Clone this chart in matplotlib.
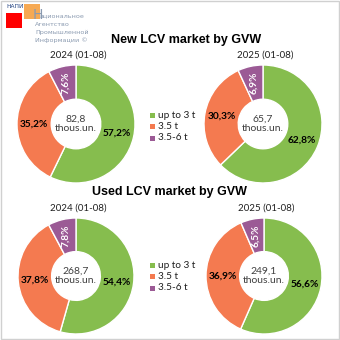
import matplotlib
matplotlib.use('Agg')
import matplotlib.pyplot as plt
from matplotlib.patches import Rectangle

# Данные
categories = ['up to 3 t', '3.5 t', '3.5-6 t']
colors = ['#86BD4E', '#F47A50', '#9B5A95']

periods = ['2024 (01-08)', '2025 (01-08)']
new_shares = [[57.2, 35.2, 7.6], [62.8, 30.3, 6.9]]
new_totals = ['82,8', '65,7']
used_shares = [[54.4, 37.8, 7.8], [56.6, 36.9, 6.5]]
used_totals = ['268,7', '249,1']

W = 340
fig = plt.figure(figsize=(3.4, 3.4), dpi=100)
fig.patch.set_facecolor('white')
fig.add_artist(Rectangle((0.002, 0.002), 0.996, 0.996, transform=fig.transFigure,
                         fill=False, edgecolor='#D0D0D0', lw=1))

def px(x, y):
    return x / W, 1 - y / W

def donut(cx, cy, r, vals, total, period):
    ax = fig.add_axes([(cx - r) / W, 1 - (cy + r) / W, 2 * r / W, 2 * r / W])
    wedges, texts, autotexts = ax.pie(vals, colors=colors, startangle=90, counterclock=False,
                                      radius=1, autopct=lambda p: '', pctdistance=0.71,
                                      wedgeprops=dict(width=0.58, edgecolor='white', linewidth=1))
    for i, a in enumerate(autotexts):
        s = ('%.1f%%' % vals[i]).replace('.', ',')
        a.set_text(s)
        a.set_fontfamily('Lato')
        a.set_fontweight('bold')
        a.set_fontsize(7.3)
        if i == 2:
            a.set_color('white')
            a.set_rotation(90)
        else:
            a.set_color('black')
    ax.text(0, 0, total + '\nthous.un.', ha='center', va='center', fontsize=7.5,
            family='Lato', color='#404040', linespacing=1.0)
    ax.set_xlim(-1, 1)
    ax.set_ylim(-1, 1)
    x, y = px(cx + 2, cy - r - 10)
    fig.text(x, y, period, ha='center', va='center', fontsize=7.0, family='Lato', color='#202020')

for i in range(2):
    donut([76, 263][i], 124, 59, new_shares[i], new_totals[i], periods[i])
    donut([76, 264][i], 276, 58, used_shares[i], used_totals[i], periods[i])

x, y = px(186, 40)
fig.text(x, y, 'New LCV market by GVW', ha='center', va='center', fontsize=9,
         fontweight='bold', family='Liberation Sans', color='black')
x, y = px(169, 192)
fig.text(x, y, 'Used LCV market by GVW', ha='center', va='center', fontsize=9,
         fontweight='bold', family='Liberation Sans', color='black')

# легенды
for ly in [115, 265]:
    for k, name in enumerate(categories):
        yy = ly + k * 11.5
        fig.add_artist(Rectangle((150 / W, 1 - (yy + 2.5) / W), 5 / W, 5 / W,
                                 transform=fig.transFigure, color=colors[k], lw=0))
        x, y = px(158, yy)
        fig.text(x, y, name, ha='left', va='center', fontsize=7.2, family='Lato', color='#202020')

# логотип
fig.add_artist(Rectangle((6 / W, 1 - 28 / W), 16 / W, 15 / W, transform=fig.transFigure,
                         color='#FF0000', lw=0))
fig.add_artist(Rectangle((24 / W, 1 - 19 / W), 16 / W, 15 / W, transform=fig.transFigure,
                         color='#F5A040', lw=0, alpha=0.9))
x, y = px(6, 7)
fig.text(x, y, 'НАПИ', fontsize=4.2, family='DejaVu Sans', color='#1F3F7F', va='center')
x, y = px(32.5, 15)
fig.text(x, y, 'Н', fontsize=10, family='DejaVu Sans', color='#8A9AB0', va='center')
lines = ['ациональное', 'Агентство', 'Промышленной', 'Информации ©']
for k, t in enumerate(lines):
    xx = 40 if k == 0 else 35
    x, y = px(xx, 16 + k * 8)
    fig.text(x, y, t, fontsize=4.6, family='DejaVu Sans', color='#8A9AB0', va='center')

fig.savefig('out.png', dpi=100)
